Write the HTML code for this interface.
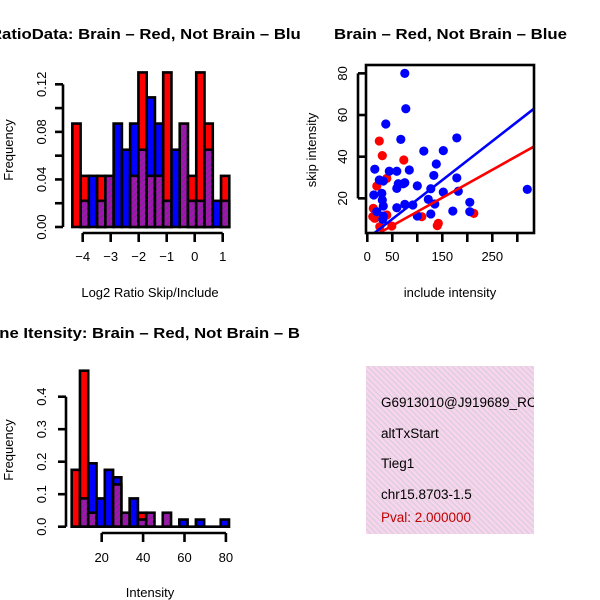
<!DOCTYPE html>
<html><head><meta charset="utf-8"><style>
html,body{margin:0;padding:0;background:#fff;}
svg{display:block;font-family:"Liberation Sans",sans-serif;}
</style></head><body>
<svg id="chart" width="600" height="600" viewBox="0 0 600 600">
<defs>
<pattern id="purp" patternUnits="userSpaceOnUse" width="4" height="4" patternTransform="rotate(45)">
<rect width="4" height="4" fill="#a810b8"/><rect width="1.6" height="4" fill="#7a2a8a"/></pattern>
<pattern id="pinkh" patternUnits="userSpaceOnUse" width="4" height="4" patternTransform="rotate(-45)">
<rect width="4" height="4" fill="#f8d4f0"/><rect width="1.4" height="4" fill="#dcd0d8"/></pattern>
<clipPath id="c1"><rect x="0" y="0" width="300" height="300"/></clipPath>
<clipPath id="c3"><rect x="0" y="300" width="300" height="300"/></clipPath>
<clipPath id="c4"><rect x="366" y="366" width="168" height="168"/></clipPath>
<clipPath id="cs"><rect x="366" y="65" width="168" height="168"/></clipPath>
</defs>
<g id="p1" clip-path="url(#c1)"></g>
<g id="p2"></g>
<g id="p3" clip-path="url(#c3)"></g>
<g id="p4">
<rect x="366" y="366" width="168" height="168" fill="url(#pinkh)"/>
<g clip-path="url(#c4)" font-size="13.5">
<text x="381" y="407">G6913010@J919689_RC</text>
<text x="381" y="438">altTxStart</text>
<text x="381" y="468">Tieg1</text>
<text x="381" y="499">chr15.8703-1.5</text>
<text x="381" y="522" fill="#c00000">Pval: 2.000000</text>
</g></g>
</svg>
<script>
// ---- Histogram 1 data (log2 ratio) ----
const h1Start = -4.37;
const h1Width = 0.295;
const h1Red  = [0.087,0.043,0,0.043,0.043,0,0,0.043,0.13,0.043,0.043,0.13,0,0.087,0.043,0.13,0.087,0,0.043];
const h1Blue = [0,0.022,0.043,0.022,0.043,0.087,0.065,0.087,0.065,0.109,0.087,0.022,0.065,0.087,0.022,0.022,0.065,0.022,0.022];
const h1YTicks = [0,0.02,0.04,0.06,0.08,0.10,0.12];
const h1YLabels = ["0.00","0.04","0.08","0.12"];
const h1XTicks = [-4,-3,-2,-1,0,1];
// ---- Scatter data ----
const blueInc = [75,77,37,67,179,113,152,15,44,59,84,138,133,179,24,32,62,72,75,59,100,127,182,152,13,29,320,122,30,205,91,75,135,32,59,19,171,205,127,100,32,31];
const blueSkip = [80,63,55.7,48.3,49,42.7,42.9,34,33,33,33.6,36.5,31,29.8,28.8,28.3,27,27,27.5,24.8,26,24.6,23.4,23,21.6,22.4,24.3,19.5,19.2,18.1,16.8,17.1,17.3,16.3,15.5,13.6,13.9,13.6,12.5,11.5,11.5,9.9];
const redInc = [24,30,73,39,19,12,11,15,39,109,213,142,140,49,25];
const redSkip = [47.5,40.5,38.4,29.6,25.9,15.2,11.2,10.4,12,11.2,12.8,8,6.9,6.7,6.4];
const blueFit = [0.7,0.187];
const redFit = [0.2,0.134];
const scXTicks = [0,50,100,150,200,250,300];
const scXLabels = [0,50,150,250];
const scYTicks = [20,40,60,80];
// ---- Histogram 2 data (intensity) ----
const h2Start = 5.5;
const h2Width = 4;
const h2Red  = [0.175,0.48,0.043,0,0,0.13,0.043,0,0.043,0.043,0,0.043,0,0,0,0,0,0,0];
const h2Blue = [0,0.087,0.195,0.087,0.175,0.152,0.043,0.087,0.022,0.043,0,0.043,0,0.022,0,0.022,0,0,0.022];
const h2YTicks = [0,0.1,0.2,0.3,0.4];
const h2XTicks = [20,40,60,80];

const NS="http://www.w3.org/2000/svg";
function mk(parent,tag,attrs){const e=document.createElementNS(NS,tag);for(const k in attrs)e.setAttribute(k,attrs[k]);parent.appendChild(e);return e;}

function hist(g,start,width,red,blue,xs,ys){
  for(let i=0;i<red.length;i++){
    const x0=xs(start+i*width),x1=xs(start+(i+1)*width);
    const r=red[i],b=blue[i],m=Math.min(r,b);
    const top=Math.max(r,b);
    const col=r>b?"#ff0000":"#0000ff";
    const bar=mk(g,"rect",{x:x0,y:ys(top),width:x1-x0,height:ys(0)-ys(top),fill:(r===b&&r>0)?"url(#purp)":col,stroke:"#000","stroke-width":2.6});
    
    
    if(m>0&&r!==b){
      const ov=mk(g,"rect",{x:x0,y:ys(m),width:x1-x0,height:ys(0)-ys(m),fill:"url(#purp)",stroke:"#000","stroke-width":2.6});
      
      
    }
  }
}
function axisY(g,ax,ys,ticks,labels,lx){
  const a=mk(g,"line",{x1:ax,x2:ax,y1:ys(ticks[ticks.length-1]),y2:ys(ticks[0]),stroke:"#000","stroke-width":2.6});
  
  
  ticks.forEach(t=>{mk(g,"line",{x1:ax-8,x2:ax,y1:ys(t),y2:ys(t),stroke:"#000","stroke-width":2.6});});
  labels.forEach(l=>{const v=parseFloat(l);const y=ys(v);
    const t=mk(g,"text",{x:lx,y:y,transform:`rotate(-90 ${lx} ${y})`,"text-anchor":"middle","font-size":13});
    t.textContent=l;
    
    });
}
function axisX(g,ay,xs,ticks,labels,ly){
  const a=mk(g,"line",{x1:xs(ticks[0]),x2:xs(ticks[ticks.length-1]),y1:ay,y2:ay,stroke:"#000","stroke-width":2.6});
  
  
  ticks.forEach(t=>{mk(g,"line",{x1:xs(t),x2:xs(t),y1:ay,y2:ay+9,stroke:"#000","stroke-width":2.6});});
  labels.forEach(l=>{const t=mk(g,"text",{x:xs(l),y:ly,"text-anchor":"middle","font-size":13});
    t.textContent=String(l).replace("-","\u2212");
    
    });
}
function label(g,txt,x,y,rot,name,extra){
  const a={x:x,y:y,"text-anchor":"middle","font-size":13};
  if(rot)a.transform=`rotate(-90 ${x} ${y})`;
  Object.assign(a,extra||{});
  const t=mk(g,"text",a);t.textContent=txt;
  
  
}
const TB={"text-anchor":"start","font-size":14.5,"font-weight":"bold","lengthAdjust":"spacingAndGlyphs"};

// Panel 1
(function(){
  const g=document.getElementById("p1");
  const xs=v=>82.7+(v+4)*28, ys=v=>227-v*1189;
  hist(g,h1Start,h1Width,h1Red,h1Blue,xs,ys);
  axisY(g,63,ys,h1YTicks,h1YLabels,46);
  axisX(g,233,xs,h1XTicks,h1XTicks,261);
  label(g,"Frequency",13,150,true,"y-axis-title");
  label(g,"Log2 Ratio Skip/Include",150,297,false,"x-axis-title");
  label(g,"RatioData: Brain \u2013 Red, Not Brain \u2013 Blue",-10,39,false,"chart-title",Object.assign({},TB,{textLength:320}));
})();
// Panel 2
(function(){
  const g=document.getElementById("p2");
  const xs=v=>367.3+v*0.5, ys=v=>240-v*2.083;
  const pts=mk(g,"g",{"clip-path":"url(#cs)"});
  redInc.forEach((v,i)=>{const c=mk(pts,"circle",{cx:xs(v),cy:ys(redSkip[i]),r:4.6,fill:"#ff0000"});
    
    });
  blueInc.forEach((v,i)=>{const c=mk(pts,"circle",{cx:xs(v),cy:ys(blueSkip[i]),r:4.6,fill:"#0000ff"});
    
    });
  [[blueFit,"#0000ff","blue-fit-line"],[redFit,"#ff0000","red-fit-line"]].forEach(([f,c,n])=>{
    const l=mk(pts,"line",{x1:xs(0),y1:ys(f[0]),x2:xs(340),y2:ys(f[0]+f[1]*340),stroke:c,"stroke-width":2.6});
    
    
  });
  const box=mk(g,"rect",{x:366,y:65,width:168,height:168,fill:"none",stroke:"#000","stroke-width":2.6});
  
  
  scYTicks.forEach(t=>{mk(g,"line",{x1:358,x2:366,y1:ys(t),y2:ys(t),stroke:"#000","stroke-width":2.6});
    const y=ys(t);const tx=mk(g,"text",{x:347,y:y,transform:`rotate(-90 347 ${y})`,"text-anchor":"middle","font-size":13});tx.textContent=t;
    
    });
  mk(g,"line",{x1:358,x2:358,y1:ys(20),y2:ys(80),stroke:"#000","stroke-width":2.6});
  scXTicks.forEach(t=>{mk(g,"line",{x1:xs(t),x2:xs(t),y1:233,y2:242,stroke:"#000","stroke-width":2.6});});
  scXLabels.forEach(t=>{const tx=mk(g,"text",{x:xs(t),y:261,"text-anchor":"middle","font-size":13});tx.textContent=t;
    
    });
  label(g,"skip intensity",316,150,true,"y-axis-title");
  label(g,"include intensity",450,297,false,"x-axis-title");
  label(g,"Brain \u2013 Red, Not Brain \u2013 Blue",334,39,false,"chart-title",Object.assign({},TB,{textLength:233}));
})();
// Panel 3
(function(){
  const g=document.getElementById("p3");
  const xs=v=>101.7+(v-20)*2.07, ys=v=>526.7-v*325;
  hist(g,h2Start,h2Width,h2Red,h2Blue,xs,ys);
  mk(g,"line",{x1:xs(h2Start),x2:xs(h2Start+h2Width*h2Red.length),y1:ys(0),y2:ys(0),stroke:"#000","stroke-width":2.6});
  axisY(g,66,ys,h2YTicks,h2YTicks.map(v=>v.toFixed(1)),46);
  axisX(g,533,xs,h2XTicks,h2XTicks,562);
  label(g,"Frequency",13,450,true,"y-axis-title");
  label(g,"Intensity",150,597,false,"x-axis-title");
  label(g,"Gene Itensity: Brain \u2013 Red, Not Brain \u2013 Blue",-23,338,false,"chart-title",Object.assign({},TB,{textLength:347}));
})();
</script>
</body></html>
